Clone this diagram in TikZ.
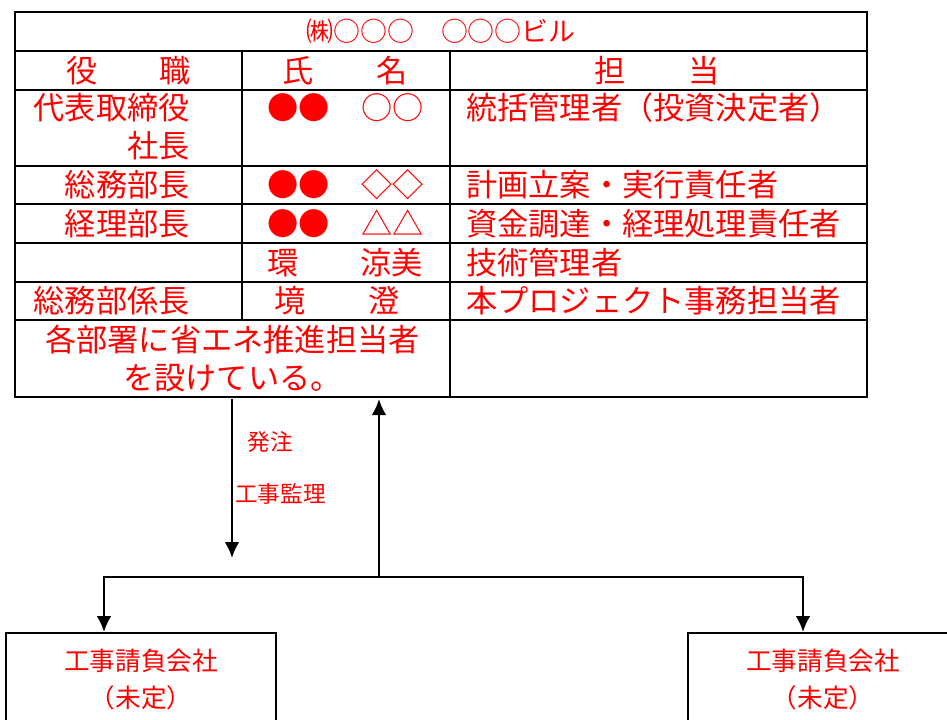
\documentclass[tikz,border=0pt]{standalone}
\usepackage{fontspec}
\setmainfont{Noto Sans CJK JP}
\usetikzlibrary{positioning, arrows.meta}

\begin{document}
\begin{tikzpicture}[
        x=0.75pt, y=-0.75pt,
        rule/.style={line width=1.1pt},
        cell/.style={text=red, inner sep=0pt, align=center, font=\fontsize{23.4}{28.5}\selectfont},
        head/.style={cell, font=\fontsize{20.2}{24}\selectfont},
        note/.style={text=red, inner sep=0pt, font=\fontsize{17}{20}\selectfont},
        firm/.style={draw, line width=1.2pt, inner sep=0pt, align=center, text=red,
                     minimum width=202.5pt, minimum height=69.75pt, font=\fontsize{19.2}{27.75}\selectfont},
        line/.style={-{Latex[length=12pt, width=11pt]}, line width=1.5pt}
    ]

    \useasboundingbox (0,0) rectangle (947,719);
    \clip (0,0) rectangle (947,719);

    \draw[rule] (15,12) rectangle (867,397);
    \foreach \y in {51, 90, 166, 204, 243, 282, 320}
        \draw[rule] (15,\y) -- (867,\y);
    \draw[rule] (242,51) -- (242,320);
    \draw[rule] (450,51) -- (450,397);

    \node[head] (title) at (441,31.5) {㈱○○○　○○○ビル};

    \node[cell] (postHead) at (128.5,70.5) {役　　職};
    \node[cell] (nameHead) at (345,70.5) {氏　　名};
    \node[cell] (dutyHead) at (657,70.5) {担　　当};

    \node[cell, anchor=east, align=right] (post1) at (190,127) {代表取締役\\社長};
    \node[cell, anchor=east] (post2) at (190,185) {総務部長};
    \node[cell, anchor=east] (post3) at (190,223.5) {経理部長};
    \node[cell, anchor=east] (post5) at (190,301) {総務部係長};

    \node[cell] (name1) at (345.5,108) {●●　○○};
    \node[cell] (name2) at (345.5,185) {●●　◇◇};
    \node[cell] (name3) at (345.5,223.5) {●●　△△};
    \node[cell] (name4) at (345,262.5) {環　　涼美};
    \node[cell] (name5) at (337,301) {境　　澄};

    \node[cell, anchor=west] (duty1) at (466,108) {統括管理者（投資決定者）};
    \node[cell, anchor=west] (duty2) at (466,185) {計画立案・実行責任者};
    \node[cell, anchor=west] (duty3) at (466,223.5) {資金調達・経理処理責任者};
    \node[cell, anchor=west] (duty4) at (466,262.5) {技術管理者};
    \node[cell, anchor=west] (duty5) at (466,301) {本プロジェクト事務担当者};

    \node[cell] (staff) at (232.5,359) {各部署に省エネ推進担当者\\を設けている。};

    \node[firm, anchor=north] (firmA) at (141,632) {工事請負会社\\（未定）};
    \node[firm, anchor=north] (firmB) at (823,632) {工事請負会社\\（未定）};

    \coordinate (order) at (232,399);
    \coordinate (orderEnd) at (232,558);
    \coordinate (report) at (379,399);
    \coordinate (fork) at (379,577);
    \coordinate (dropA) at (104,632);
    \coordinate (dropB) at (803,632);

    \node[note] (orderText) at (270,442) {発注};
    \node[note] (superText) at (280.5,494) {工事監理};

    \draw[line] (order) -- (orderEnd);
    \draw[line] (fork) -- (report);
    \draw[line] (fork) -| (dropA);
    \draw[line] (fork) -| (dropB);

\end{tikzpicture}
\end{document}
